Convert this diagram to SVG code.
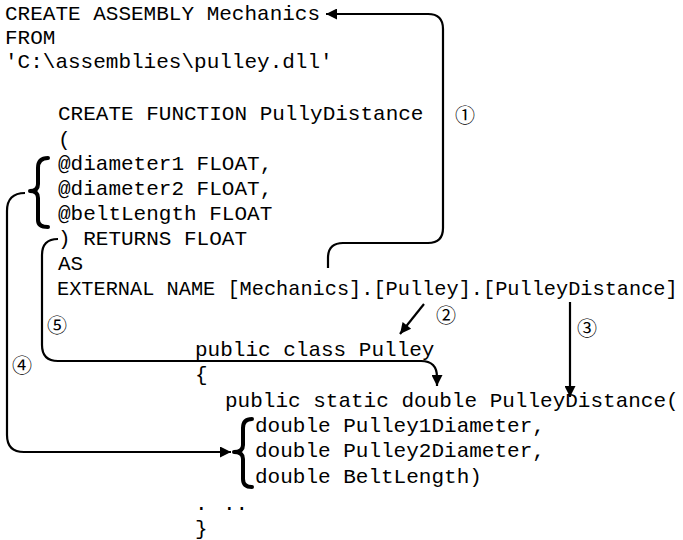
<svg xmlns="http://www.w3.org/2000/svg" width="683" height="540" viewBox="0 0 683 540">
<style>
text{font-family:"Liberation Mono","Courier New",monospace;font-size:21px;fill:#000}
.x{font-size:20.3px}
.n{font-family:"Noto Sans CJK JP","DejaVu Sans",sans-serif;font-size:20px;text-anchor:middle}
.c{fill:none;stroke:#000;stroke-width:2.2}
.b{fill:none;stroke:#000;stroke-width:4;stroke-linecap:round;stroke-linejoin:round}
</style>
<defs>
<marker id="ah" viewBox="0 0 10 10" refX="10" refY="5" markerWidth="15" markerHeight="11" markerUnits="userSpaceOnUse" orient="auto"><path d="M0 0L10 5L0 10z" fill="#000"/></marker>
</defs>
<g id="sql">
<text x="5" y="20">CREATE ASSEMBLY Mechanics</text>
<text x="5" y="44">FROM</text>
<text x="5" y="68">'C:\assemblies\pulley.dll'</text>
<text x="58" y="120">CREATE FUNCTION PullyDistance</text>
<text x="58" y="146">(</text>
<text x="58" y="170">@diameter1 FLOAT,</text>
<text x="58" y="195">@diameter2 FLOAT,</text>
<text x="58" y="220">@beltLength FLOAT</text>
<text x="58" y="245">) RETURNS FLOAT</text>
<text x="58" y="270">AS</text>
<text class="x" x="57" y="295">EXTERNAL NAME [Mechanics].[Pulley].[PulleyDistance]</text>
</g>
<g id="csharp">
<text x="195" y="356">public class Pulley</text>
<text x="195" y="381">{</text>
<text x="225" y="407">public static double PulleyDistance(</text>
<text x="255" y="432">double Pulley1Diameter,</text>
<text x="255" y="457">double Pulley2Diameter,</text>
<text x="255" y="483">double BeltLength)</text>
<text x="195" y="510">.</text>
<text x="223" y="510">..</text>
<text x="195" y="535">}</text>
</g>
<g id="braces">
<path class="b" d="M48 158Q38 158 38 168V184Q38 191 30 191Q38 191 38 198V220Q38 227 48 227"/>
<path class="b" d="M252 419Q243 419 243 428V445Q243 452 234 452Q243 452 243 459V479Q243 487 252 487"/>
</g>
<g id="labels">
<text class="n" x="465" y="123">①</text>
<text class="n" x="446" y="323">②</text>
<text class="n" x="587" y="336">③</text>
<text class="n" x="22" y="373">④</text>
<text class="n" x="57" y="333">⑤</text>
</g>
<g id="connectors">
<path class="c" d="M328 268V258Q328 243 343 243H428Q443 243 443 228V29Q443 14 428 14H326" marker-end="url(#ah)"/>
<path class="c" d="M424 304L400 334" marker-end="url(#ah)"/>
<path class="c" d="M570 302V397" marker-end="url(#ah)"/>
<path class="c" d="M25 193Q7 193 7 211V435Q7 452 24 452H231" marker-end="url(#ah)"/>
<path class="c" d="M58 239Q42 239 42 255V345Q42 361 58 361H421Q437 361 437 377V386" marker-end="url(#ah)"/>
</g>
</svg>
